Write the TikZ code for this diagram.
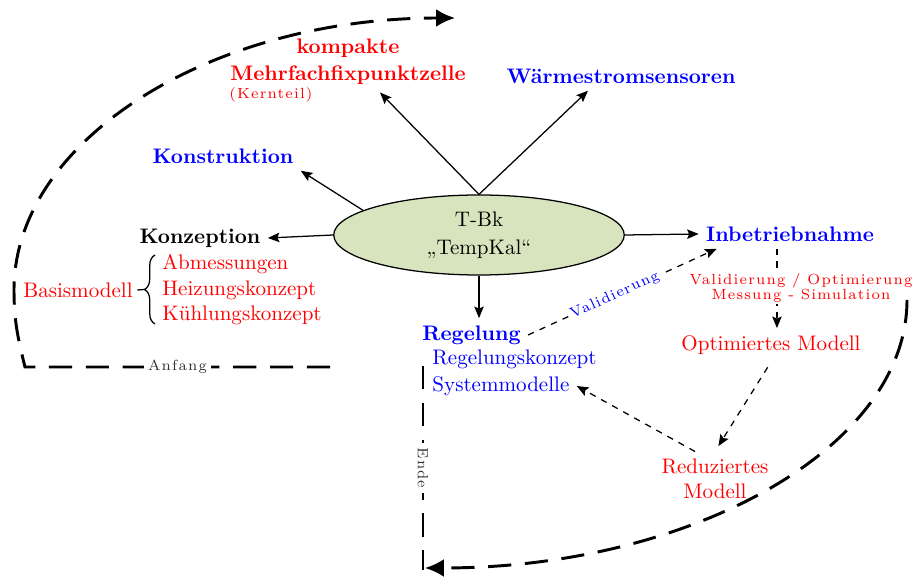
\documentclass[tikz,border=0pt]{standalone}
\usepackage{fontspec}
\newfontfamily\spacedfont{lmroman7-regular.otf}[LetterSpace=8]
\usetikzlibrary{arrows.meta,calc,decorations.pathreplacing,shapes.geometric}
\definecolor{tbkgreen}{HTML}{D7E4BD}
\begin{document}
\begin{tikzpicture}[x=0.475pt,y=0.475pt,
  arr/.style={-{Stealth[length=5.5pt,width=4.5pt,inset=1pt]}, semithick},
  darr/.style={arr, dashed},
  big/.style={line width=1.4pt, dash pattern=on 11pt off 6.5pt},
  bigtip/.style={-{Latex[length=9pt,width=8.5pt]}},
  small/.style={font=\scriptsize\spacedfont}]
\useasboundingbox (0,0) rectangle (915,579);

% central node
\node[ellipse, draw, semithick, fill=tbkgreen, minimum width=138pt, minimum height=38pt,
      inner sep=0pt, align=center] (tbk) at (479,344) {T-Bk\\[1.5pt]„TempKal“};

% top / left nodes
\node[font=\bfseries] (konz) at (200,341) {Konzeption};
\node[font=\bfseries, text=blue] (konstr) at (223,423) {Konstruktion};
\node[font=\bfseries, text=red, align=center] (kmfz) at (348,517) {kompakte\\[1pt]Mehrfachfixpunktzelle};
\node[small, text=red, anchor=west, inner sep=0pt] (kern) at (229,484) {(Kernteil)};
\node[font=\bfseries, text=blue] (waerm) at (621,503) {Wärmestromsensoren};
\node[font=\bfseries, text=blue] (inbetr) at (790,345) {Inbetriebnahme};

% Regelung block
\node[font=\bfseries, text=blue, anchor=west] (regel) at (415,244) {Regelung};
\node[text=blue, anchor=west] (regk) at (425,220) {Regelungskonzept};
\node[text=blue, anchor=west] (sysm) at (425,193) {Systemmodelle};

% model nodes
\node[text=red] (optm) at (771,234) {Optimiertes Modell};
\node[text=red, align=center] (redm) at (715,100) {Reduziertes\\Modell};

% Basismodell with brace
\node[text=red, inner sep=2pt] (basis) at (78,289) {Basismodell};
\node[text=red, anchor=west] (abm) at (155,315) {Abmessungen};
\node[text=red, anchor=west] (heiz) at (155,289) {Heizungskonzept};
\node[text=red, anchor=west] (kuehl) at (155,264) {Kühlungskonzept};
\draw[semithick, decorate, decoration={brace, amplitude=5pt}] (155,255) -- (155,324);
\coordinate (btip) at (144.5,289.5);
\draw[semithick] (basis.east) -- (btip);

% solid arrows from centre
\draw[arr] (tbk.west) -- (konz.east);
\draw[arr] (tbk.168) -- (konstr.south east);
\draw[arr] (tbk.north) -- ($(kmfz.south)+(32,0)$);
\draw[arr] (tbk.north) -- ($(waerm.south)+(-33,0)$);
\draw[arr] (tbk.east) -- (inbetr.west);
\draw[arr] (tbk.south) -- (tbk.south |- regel.north);

% dashed arrows
\draw[darr] (regel.east) -- node[pos=0.46, sloped, fill=white, small, text=blue, inner sep=1pt] {Validierung}
      ($(inbetr.south west)+(18,0)$);
\draw[darr] ([xshift=-6.2pt]inbetr.south) -- ([xshift=-6.2pt]inbetr.south |- optm.north);
\node[small, text=red, fill=white, align=center, inner sep=1pt] (vlabel) at (801,291)
      {Validierung / Optimierung\\[-1.3pt]Messung - Simulation};
\draw[darr, shorten <=3pt, shorten >=3pt] (optm.south) -- (redm.north);
\draw[darr] ($(redm.north)+(-20,0)$) -- (sysm.east);

% big cycle: start
\coordinate (a1) at (330,212);
\coordinate (a2) at (25,212);
\coordinate (l1) at (14,289);
\draw[big, bigtip] (a1) -- node[fill=white, small, text=black!80, inner sep=2pt] {Anfang} (a2)
      to[out=104,in=-90] (l1)
      arc[start angle=180, end angle=90, x radius=209.5pt, y radius=129.2pt];

% big cycle: end
\coordinate (r1) at (907,279);
\draw[big, bigtip] (r1) arc[start angle=0, end angle=-90, x radius=229pt, y radius=127.3pt];
\coordinate (e1) at (423,213);
\coordinate (e2) at (423,9);
\draw[big] (e1) -- node[fill=white, small, text=black!80, rotate=-90, inner sep=2pt] {Ende} (e2);
\end{tikzpicture}
\end{document}
